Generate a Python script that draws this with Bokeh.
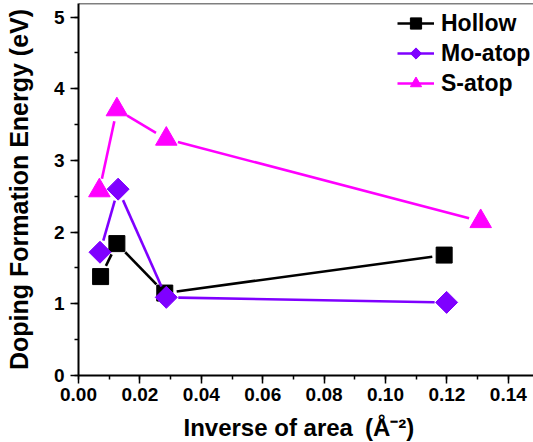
import numpy as np
from bokeh.plotting import figure
from bokeh.models import (Range1d, SingleIntervalTicker, NumeralTickFormatter,
                          Legend, LegendItem, Span, Title, ColumnDataSource)
from bokeh.embed import file_html
from bokeh.resources import INLINE

# Doping formation energy (eV) versus inverse supercell area (1/Å^2)
hollow_x = [0.0072, 0.0125, 0.0281, 0.1191]
hollow_y = [1.38, 1.84, 1.15, 1.68]
mo_atop_x = [0.0070, 0.0129, 0.0286, 0.1199]
mo_atop_y = [1.72, 2.60, 1.09, 1.02]
s_atop_x = [0.0068, 0.0125, 0.0286, 0.1310]
s_atop_y = [2.58, 3.71, 3.30, 2.15]

x_ticks_step = 0.02
y_ticks_step = 1

X_END = 0.1482
Y_END = 5.19
FRAME_W = 455
FRAME_H = 372
FONT = "Liberation Sans"

BLACK = "#000000"
VIOLET = "#7F00FF"
MAGENTA = "#FF00FF"


def gapped_segments(xs, ys, gap=12.0):
    """Connecting segments that stop short of each symbol (gap in pixels)."""
    kx = FRAME_W / X_END
    ky = FRAME_H / Y_END
    out = dict(x0=[], y0=[], x1=[], y1=[])
    for xa, ya, xb, yb in zip(xs[:-1], ys[:-1], xs[1:], ys[1:]):
        length = np.hypot((xb - xa) * kx, (yb - ya) * ky)
        if length <= 2 * gap:
            continue
        f = gap / length
        out["x0"].append(xa + (xb - xa) * f)
        out["y0"].append(ya + (yb - ya) * f)
        out["x1"].append(xb - (xb - xa) * f)
        out["y1"].append(yb - (yb - ya) * f)
    return ColumnDataSource(out)


p = figure(frame_width=FRAME_W, frame_height=FRAME_H,
           x_range=Range1d(0, X_END), y_range=Range1d(0, Y_END),
           min_border_left=78, min_border_right=0,
           min_border_top=3, min_border_bottom=67,
           output_backend="svg", toolbar_location=None)

p.background_fill_color = "white"
p.border_fill_color = "white"
p.outline_line_color = None
p.grid.visible = False

# top frame line
p.add_layout(Span(location=Y_END, dimension="width",
                  line_color=BLACK, line_width=1.5))

# axes
for ax in (p.xaxis[0], p.yaxis[0]):
    ax.axis_line_width = 2
    ax.axis_line_color = BLACK
    ax.major_tick_line_width = 1.5
    ax.minor_tick_line_width = 1.5
    ax.major_tick_line_color = BLACK
    ax.minor_tick_line_color = BLACK
    ax.major_tick_in = 0
    ax.major_tick_out = 8
    ax.minor_tick_in = 0
    ax.minor_tick_out = 4
    ax.major_label_text_font = FONT
    ax.major_label_text_font_style = "bold"
    ax.major_label_text_font_size = "19px"
    ax.major_label_text_color = BLACK

p.xaxis.ticker = SingleIntervalTicker(interval=x_ticks_step, num_minor_ticks=2)
p.xaxis.formatter = NumeralTickFormatter(format="0.00")
p.xaxis.major_label_standoff = 4
p.yaxis.ticker = SingleIntervalTicker(interval=y_ticks_step, num_minor_ticks=2)
p.yaxis.major_label_standoff = 6

p.yaxis.axis_label = "Doping Formation Energy (eV)"
p.yaxis.axis_label_text_font = FONT
p.yaxis.axis_label_text_font_style = "bold"
p.yaxis.axis_label_text_font_size = "25px"
p.yaxis.axis_label_text_color = BLACK
p.yaxis.axis_label_standoff = 18

p.add_layout(Title(text="Inverse of area\u2002(Å⁻²)", align="left", offset=105,
                   text_font=FONT, text_font_style="bold",
                   text_font_size="24px", text_color=BLACK,
                   standoff=16), "below")

# series
seg_h = p.segment("x0", "y0", "x1", "y1", source=gapped_segments(hollow_x, hollow_y),
                  line_color=BLACK, line_width=2.6)
sc_h = p.scatter(hollow_x, hollow_y, marker="square", size=16,
                 fill_color=BLACK, line_color=BLACK)

seg_s = p.segment("x0", "y0", "x1", "y1", source=gapped_segments(s_atop_x, s_atop_y),
                  line_color=MAGENTA, line_width=2.6)
sc_s = p.scatter(s_atop_x, s_atop_y, marker="triangle", size=21.5,
                 fill_color=MAGENTA, line_color=MAGENTA)

seg_m = p.segment("x0", "y0", "x1", "y1", source=gapped_segments(mo_atop_x, mo_atop_y),
                  line_color=VIOLET, line_width=2.6)
try:
    sc_m = p.ngon(mo_atop_x, mo_atop_y, radius=11, radius_units="screen", n=4,
                  fill_color=VIOLET, line_color=VIOLET)
except Exception:
    sc_m = p.scatter(mo_atop_x, mo_atop_y, marker="square", size=15.5, angle=np.pi / 4,
                     fill_color=VIOLET, line_color=VIOLET)

legend = Legend(items=[
    LegendItem(label="Hollow", renderers=[seg_h, sc_h]),
    LegendItem(label="Mo-atop", renderers=[seg_m, sc_m]),
    LegendItem(label="S-atop", renderers=[seg_s, sc_s]),
], location=(319, 278))
legend.border_line_color = None
legend.background_fill_alpha = 0
legend.padding = 0
legend.margin = 0
legend.spacing = 2
legend.glyph_width = 37
legend.glyph_height = 28
legend.label_height = 28
legend.label_standoff = 7
legend.label_text_font = FONT
legend.label_text_font_style = "bold"
legend.label_text_font_size = "23px"
legend.label_text_color = BLACK
p.add_layout(legend)

open("out.html", "w").write(file_html(p, INLINE))
